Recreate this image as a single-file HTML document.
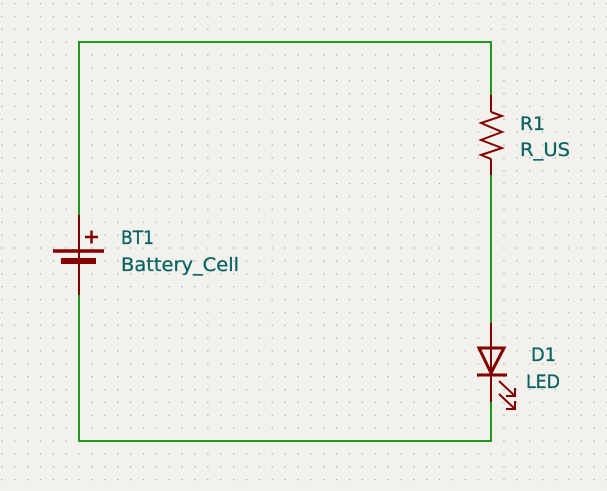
<!DOCTYPE html>
<html><head><meta charset="utf-8"><style>
html,body{margin:0;padding:0;background:#f3f1ec;}
svg{display:block}
text{font-family:"DejaVu Sans","Liberation Sans",sans-serif;font-size:19px;fill:#0a6464;stroke:#0a6464;stroke-width:0.3;}
</style></head><body>
<svg width="607" height="491" viewBox="0 0 607 491" xmlns="http://www.w3.org/2000/svg">
<defs>
<pattern id="g" x="78.5" y="41.5" width="12.875" height="12.87" patternUnits="userSpaceOnUse">
<rect x="0" y="0" width="1.2" height="1.2" fill="#a0a0a0"/>
</pattern>
</defs>
<rect width="607" height="491" fill="#f3f1ec"/>
<rect width="607" height="491" fill="url(#g)"/>
<g stroke="#1f9a1f" stroke-width="2" fill="none">
<polyline points="79,216 79,42 491,42 491,96"/>
<polyline points="79,294 79,441 491,441 491,401"/>
<line x1="491" y1="174" x2="491" y2="323"/>
</g>
<g stroke="#840000" stroke-width="2" fill="none">
<line x1="79" y1="215" x2="79" y2="295"/>
<line x1="53" y1="251" x2="104" y2="251" stroke-width="3.5"/>
<line x1="61" y1="261" x2="96" y2="261" stroke-width="6"/>
<line x1="85" y1="237" x2="98" y2="237" stroke-width="2.5"/>
<line x1="91.5" y1="230.5" x2="91.5" y2="243.5" stroke-width="2.5"/>
<line x1="491" y1="95" x2="491" y2="112"/>
<polyline points="491,112 502,116 481,123 502,132 481,140 502,148 481,155 491,159"/>
<line x1="491" y1="159" x2="491" y2="175"/>
<line x1="491" y1="323" x2="491" y2="402"/>
<polygon points="479,348 504,348 491,373" stroke-width="3"/>
<line x1="477" y1="375" x2="507" y2="375" stroke-width="3"/>
<line x1="499" y1="381" x2="515" y2="396"/>
<polyline points="506,396 515,396 515,388"/>
<line x1="499" y1="394" x2="515" y2="409"/>
<polyline points="506,409 515,409 515,401"/>
</g>
<text x="121" y="244" textLength="33" lengthAdjust="spacingAndGlyphs">BT1</text>
<text x="121" y="271" textLength="118" lengthAdjust="spacingAndGlyphs">Battery_Cell</text>
<text x="520" y="130" textLength="25" lengthAdjust="spacingAndGlyphs">R1</text>
<text x="520" y="156" textLength="50" lengthAdjust="spacingAndGlyphs">R_US</text>
<text x="531" y="361" textLength="25" lengthAdjust="spacingAndGlyphs">D1</text>
<text x="526" y="388" textLength="34" lengthAdjust="spacingAndGlyphs">LED</text>
</svg>
</body></html>
